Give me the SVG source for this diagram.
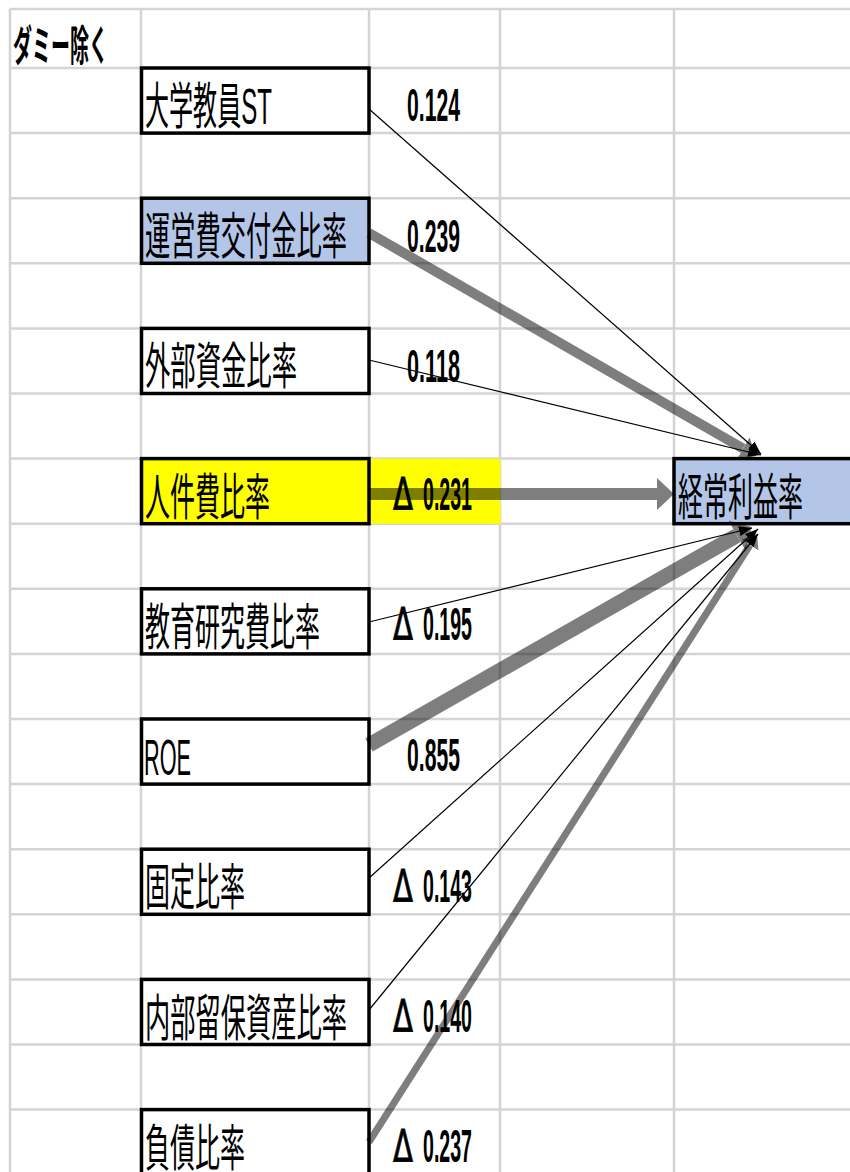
<svg xmlns="http://www.w3.org/2000/svg" width="850" height="1172" viewBox="0 0 850 1172">
<style>
.grid line{stroke:#d4d4d4;stroke-width:2.5}
.box{fill:#fff;stroke:#000;stroke-width:3.5}
.lbl{font-family:"Liberation Sans","Noto Sans CJK JP",sans-serif;font-size:50px;fill:#000}
.num{font-family:"Liberation Sans","Noto Sans CJK JP",sans-serif;font-size:46px;font-weight:bold;fill:#000}
.d{font-family:"DejaVu Sans",sans-serif;font-size:45px;font-weight:normal;fill:#000;stroke:#000;stroke-width:0.9}
.title{font-family:"Noto Sans CJK JP","Liberation Sans",sans-serif;font-size:42px;font-weight:bold;fill:#000}
.thin{stroke:#000;stroke-width:1.2;fill:none}
.thick{stroke:#000;fill:none}
</style>
<defs>
<marker id="ah" markerUnits="userSpaceOnUse" markerWidth="14" markerHeight="10" refX="13" refY="5" orient="auto"><path d="M0,0 L13,5 L0,10 z" fill="#000"/></marker>
<marker id="ahL" markerUnits="userSpaceOnUse" markerWidth="18" markerHeight="32" refX="0" refY="16" orient="auto"><path d="M0,0 L17,16 L0,32 z" fill="#000"/></marker>
<marker id="ahM" markerUnits="userSpaceOnUse" markerWidth="16" markerHeight="26" refX="0" refY="13" orient="auto"><path d="M0,0 L15,13 L0,26 z" fill="#000"/></marker>
<marker id="ahX" markerUnits="userSpaceOnUse" markerWidth="18" markerHeight="34" refX="0" refY="17" orient="auto"><path d="M0,0 L17,17 L0,34 z" fill="#000"/></marker>
<marker id="ahS" markerUnits="userSpaceOnUse" markerWidth="14" markerHeight="20" refX="0" refY="10" orient="auto"><path d="M0,0 L13,10 L0,20 z" fill="#000"/></marker>
</defs>
<rect width="850" height="1172" fill="#fff"/>
<g class="grid">
<line x1="10" y1="9" x2="850" y2="9"/>
<line x1="10" y1="68" x2="850" y2="68"/>
<line x1="10" y1="133.1" x2="850" y2="133.1"/>
<line x1="10" y1="198.2" x2="850" y2="198.2"/>
<line x1="10" y1="263.3" x2="850" y2="263.3"/>
<line x1="10" y1="328.4" x2="850" y2="328.4"/>
<line x1="10" y1="393.5" x2="850" y2="393.5"/>
<line x1="10" y1="458.6" x2="850" y2="458.6"/>
<line x1="10" y1="523.7" x2="850" y2="523.7"/>
<line x1="10" y1="588.8" x2="850" y2="588.8"/>
<line x1="10" y1="653.9" x2="850" y2="653.9"/>
<line x1="10" y1="719" x2="850" y2="719"/>
<line x1="10" y1="784.1" x2="850" y2="784.1"/>
<line x1="10" y1="849.2" x2="850" y2="849.2"/>
<line x1="10" y1="914.3" x2="850" y2="914.3"/>
<line x1="10" y1="979.4" x2="850" y2="979.4"/>
<line x1="10" y1="1044.5" x2="850" y2="1044.5"/>
<line x1="10" y1="1109.6" x2="850" y2="1109.6"/>
<line x1="10" y1="9" x2="10" y2="1172"/>
<line x1="141" y1="9" x2="141" y2="1172"/>
<line x1="369" y1="9" x2="369" y2="1172"/>
<line x1="500" y1="9" x2="500" y2="1172"/>
<line x1="674" y1="9" x2="674" y2="1172"/>
</g>
<rect x="369" y="458.6" width="131.5" height="65.1" fill="#ffff00"/>
<text class="title" x="13" y="61" textLength="95" lengthAdjust="spacingAndGlyphs">ダミー除く</text>

<g id="n-daigaku"><rect class="box" x="141.5" y="68" width="227.5" height="65.1"/><text class="lbl" x="145" y="124" textLength="127" lengthAdjust="spacingAndGlyphs">大学教員ST</text></g>
<g id="n-uneihi"><rect class="box" x="141.5" y="198.2" width="227.5" height="65.1" style="fill:#b4c6e7"/><text class="lbl" x="145" y="254" textLength="202" lengthAdjust="spacingAndGlyphs">運営費交付金比率</text></g>
<g id="n-gaibu"><rect class="box" x="141.5" y="328.4" width="227.5" height="65.1"/><text class="lbl" x="145" y="384" textLength="152" lengthAdjust="spacingAndGlyphs">外部資金比率</text></g>
<g id="n-jinken"><rect class="box" x="141.5" y="458.6" width="227.5" height="65.1" style="fill:#ffff00"/><text class="lbl" x="145" y="514.5" textLength="125" lengthAdjust="spacingAndGlyphs">人件費比率</text></g>
<g id="n-kyoiku"><rect class="box" x="141.5" y="588.8" width="227.5" height="65.1"/><text class="lbl" x="145" y="645" textLength="175" lengthAdjust="spacingAndGlyphs">教育研究費比率</text></g>
<g id="n-roe"><rect class="box" x="141.5" y="719" width="227.5" height="65.1"/><text class="lbl" x="144" y="775" textLength="47" lengthAdjust="spacingAndGlyphs">ROE</text></g>
<g id="n-kotei"><rect class="box" x="141.5" y="849.2" width="227.5" height="65.1"/><text class="lbl" x="145" y="905" textLength="100" lengthAdjust="spacingAndGlyphs">固定比率</text></g>
<g id="n-naibu"><rect class="box" x="141.5" y="979.4" width="227.5" height="65.1"/><text class="lbl" x="145" y="1035.5" textLength="202" lengthAdjust="spacingAndGlyphs">内部留保資産比率</text></g>
<g id="n-fusai"><rect class="box" x="141.5" y="1109.6" width="227.5" height="70"/><text class="lbl" x="145" y="1165.5" textLength="100" lengthAdjust="spacingAndGlyphs">負債比率</text></g>
<g id="n-keijo"><rect class="box" x="674" y="458.6" width="200" height="65.1" style="fill:#b4c6e7"/><text class="lbl" x="678" y="514.5" textLength="125" lengthAdjust="spacingAndGlyphs">経常利益率</text></g>

<g id="coef">
<text class="num" x="407" y="121" textLength="53" lengthAdjust="spacingAndGlyphs">0.124</text>
<text class="num" x="407" y="252" textLength="53" lengthAdjust="spacingAndGlyphs">0.239</text>
<text class="num" x="407" y="382" textLength="53" lengthAdjust="spacingAndGlyphs">0.118</text>
<text class="d" x="393" y="510" textLength="20" lengthAdjust="spacingAndGlyphs">Δ</text><text class="num" x="423" y="510" textLength="49" lengthAdjust="spacingAndGlyphs">0.231</text>
<text class="d" x="393" y="640" textLength="20" lengthAdjust="spacingAndGlyphs">Δ</text><text class="num" x="423" y="640" textLength="49" lengthAdjust="spacingAndGlyphs">0.195</text>
<text class="num" x="407" y="771" textLength="53" lengthAdjust="spacingAndGlyphs">0.855</text>
<text class="d" x="393" y="902" textLength="20" lengthAdjust="spacingAndGlyphs">Δ</text><text class="num" x="423" y="902" textLength="49" lengthAdjust="spacingAndGlyphs">0.143</text>
<text class="d" x="393" y="1032" textLength="20" lengthAdjust="spacingAndGlyphs">Δ</text><text class="num" x="423" y="1032" textLength="49" lengthAdjust="spacingAndGlyphs">0.140</text>
<text class="d" x="393" y="1162" textLength="20" lengthAdjust="spacingAndGlyphs">Δ</text><text class="num" x="423" y="1162" textLength="49" lengthAdjust="spacingAndGlyphs">0.237</text>
</g>

<g id="connectors">
<line class="thin" x1="369" y1="109" x2="761" y2="454" marker-end="url(#ah)"/>
<g opacity="0.5"><line class="thick" stroke-width="10" x1="369" y1="233" x2="743" y2="448.5" marker-end="url(#ahM)"/></g>
<line class="thin" x1="369" y1="360" x2="761" y2="455" marker-end="url(#ah)"/>
<g opacity="0.5"><line class="thick" stroke-width="12" x1="369" y1="494" x2="657" y2="494" marker-end="url(#ahL)"/></g>
<line class="thin" x1="369" y1="622" x2="752" y2="528" marker-end="url(#ah)"/>
<g opacity="0.5"><line class="thick" stroke-width="15" x1="369" y1="745" x2="737" y2="535.5" marker-end="url(#ahX)"/></g>
<line class="thin" x1="369" y1="878" x2="758" y2="529" marker-end="url(#ah)"/>
<line class="thin" x1="369" y1="1010" x2="758" y2="534" marker-end="url(#ah)"/>
<g opacity="0.5"><line class="thick" stroke-width="7" x1="369" y1="1142" x2="750" y2="545" marker-end="url(#ahS)"/></g>
</g>
</svg>
